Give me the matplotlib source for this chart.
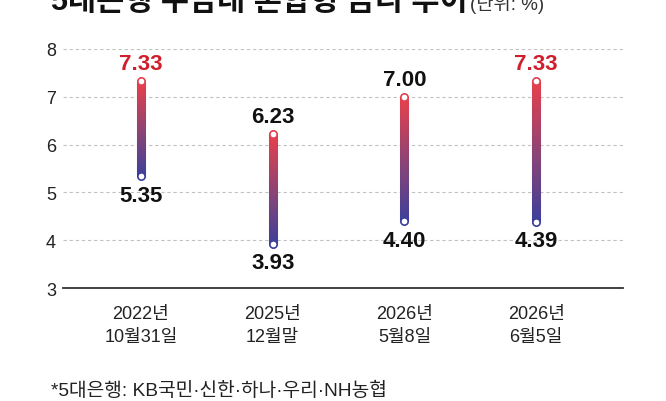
import numpy as np
import matplotlib
matplotlib.use("Agg")
import matplotlib.pyplot as plt
from matplotlib.collections import LineCollection
from matplotlib.colors import LinearSegmentedColormap

plt.rcParams['font.family'] = ['Liberation Sans', 'Noto Sans CJK KR', 'DejaVu Sans']

categories = ["2022년\n10월31일", "2025년\n12월말", "2026년\n5월8일", "2026년\n6월5일"]
high_vals = [7.33, 6.23, 7.00, 7.33]
low_vals = [5.35, 3.93, 4.40, 4.39]
high_labels = ["7.33", "6.23", "7.00", "7.33"]
low_labels = ["5.35", "3.93", "4.40", "4.39"]
yticks = [3, 4, 5, 6, 7, 8]

title = "5대은행 주담대 혼합형 금리 추이"
unit = "(단위: %)"
note = "*5대은행: KB국민·신한·하나·우리·NH농협"

RED = "#e2404e"
BLUE = "#3a3f9c"
cmap = LinearSegmentedColormap.from_list("rb", [BLUE, "#8a4476", RED])

fig = plt.figure(figsize=(6.66, 4.02), dpi=100)
ax = fig.add_axes([0.0946, 0.281, 0.841, 0.595])
ax.set_ylim(3, 8)
ax.set_xlim(-0.592, 3.66)

for y in yticks[1:]:
    ax.axhline(y, color="#c2c2c2", lw=0.8, ls=(0, (3, 2.5)), zorder=0)
ax.axhline(3, color="#333333", lw=1.3, zorder=1, clip_on=False)

for s in ax.spines.values():
    s.set_visible(False)
ax.set_yticks(yticks)
ax.set_yticklabels([str(t) for t in yticks], fontsize=13, color="#222222")
ax.tick_params(axis="y", length=0, pad=5)
ax.set_xticks(range(len(categories)))
ax.set_xticklabels(categories, fontsize=13, color="#222222", linespacing=1.45)
ax.tick_params(axis="x", length=0, pad=12)

n = 60
for i, (hi, lo) in enumerate(zip(high_vals, low_vals)):
    ys = np.linspace(lo, hi, n + 1)
    segs = [[(i, ys[k]), (i, ys[k + 1])] for k in range(n)]
    cols = cmap(np.linspace(0, 1, n))
    lc = LineCollection(segs, colors=cols, linewidths=6.5, capstyle="round", zorder=3)
    ax.add_collection(lc)
    ax.plot([i], [hi], marker="o", ms=5.0, mfc="white", mec=RED, mew=0.9, zorder=4)
    ax.plot([i], [lo], marker="o", ms=5.0, mfc="white", mec=BLUE, mew=0.9, zorder=4)
    hc = "#d01f2c" if hi >= 7.3 else "#111111"
    ax.annotate(high_labels[i], (i, hi), xytext=(0, 12.5), textcoords="offset points",
                ha="center", va="center", fontsize=16, fontweight="bold", color=hc)
    ax.annotate(low_labels[i], (i, lo), xytext=(0, -14), textcoords="offset points",
                ha="center", va="center", fontsize=16, fontweight="bold", color="#111111")

t = fig.text(0.077, 0.975, title, fontsize=22, fontweight="bold", color="#111111",
             ha="left", va="baseline")
fig.canvas.draw()
bb = t.get_window_extent()
fig.text((bb.x1 + 2) / fig.bbox.width, 0.975, unit, fontsize=13.5, color="#333333",
         ha="left", va="baseline")

fig.text(0.077, 0.028, note, fontsize=13.8, color="#222222", ha="left", va="center")

fig.savefig("out.png", dpi=100, facecolor="white")
